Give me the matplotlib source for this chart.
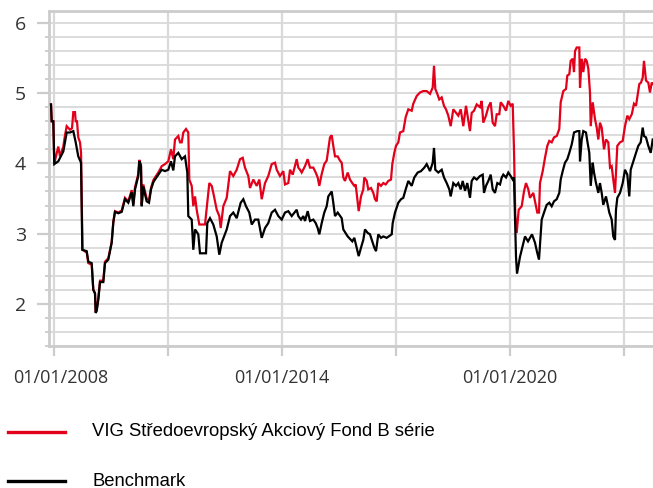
import matplotlib
matplotlib.use("Agg")
import matplotlib.pyplot as plt
import matplotlib.transforms as mtransforms
from matplotlib.lines import Line2D
from matplotlib.ticker import FixedLocator, MultipleLocator

fund_name = "VIG Středoevropský Akciový Fond B série"
bench_name = "Benchmark"

# time in decimal years
fund_t = [2007.921, 2007.939, 2007.982, 2008.008, 2008.053, 2008.113, 2008.158, 2008.245, 2008.289, 2008.334,
          2008.421, 2008.474, 2008.508, 2008.553, 2008.571, 2008.605, 2008.639, 2008.684, 2008.711, 2008.750,
          2008.861, 2008.903, 2008.992, 2009.034, 2009.079, 2009.097, 2009.124, 2009.166, 2009.211, 2009.297,
          2009.342, 2009.429, 2009.518, 2009.561, 2009.605, 2009.692, 2009.782, 2009.868, 2009.955, 2010.045,
          2010.087, 2010.132, 2010.218, 2010.245, 2010.289, 2010.308, 2010.350, 2010.395, 2010.439, 2010.500,
          2010.553, 2010.613, 2010.658, 2010.745, 2010.834, 2010.921, 2011.008, 2011.079, 2011.139, 2011.184,
          2011.271, 2011.316, 2011.361, 2011.403, 2011.474, 2011.534, 2011.561, 2011.624, 2011.666, 2011.711,
          2011.755, 2011.824, 2011.974, 2012.034, 2012.087, 2012.150, 2012.192, 2012.282, 2012.350, 2012.387,
          2012.455, 2012.545, 2012.632, 2012.718, 2012.808, 2012.895, 2012.966, 2013.026, 2013.113, 2013.158,
          2013.245, 2013.334, 2013.403, 2013.466, 2013.553, 2013.639, 2013.729, 2013.816, 2013.861, 2013.947,
          2014.034, 2014.079, 2014.166, 2014.211, 2014.282, 2014.387, 2014.429, 2014.474, 2014.518, 2014.605,
          2014.676, 2014.737, 2014.824, 2014.887, 2014.939, 2014.982, 2015.045, 2015.113, 2015.176, 2015.218,
          2015.263, 2015.308, 2015.350, 2015.395, 2015.466, 2015.526, 2015.571, 2015.613, 2015.658, 2015.729,
          2015.789, 2015.850, 2015.903, 2015.939, 2015.992, 2016.018, 2016.079, 2016.139, 2016.166, 2016.229,
          2016.271, 2016.342, 2016.403, 2016.447, 2016.492, 2016.534, 2016.605, 2016.666, 2016.729, 2016.797,
          2016.868, 2016.903, 2016.955, 2017.000, 2017.061, 2017.105, 2017.192, 2017.255, 2017.324, 2017.413,
          2017.455, 2017.545, 2017.632, 2017.718, 2017.808, 2017.895, 2017.966, 2018.000, 2018.034, 2018.087,
          2018.139, 2018.203, 2018.263, 2018.316, 2018.376, 2018.439, 2018.508, 2018.579, 2018.639, 2018.703,
          2018.771, 2018.842, 2018.903, 2018.947, 2018.992, 2019.053, 2019.124, 2019.211, 2019.255, 2019.297,
          2019.368, 2019.429, 2019.492, 2019.545, 2019.605, 2019.650, 2019.718, 2019.755, 2019.824, 2019.895,
          2019.955, 2020.018, 2020.071, 2020.105, 2020.139, 2020.176, 2020.229, 2020.308, 2020.368, 2020.421,
          2020.482, 2020.526, 2020.613, 2020.684, 2020.718, 2020.763, 2020.789, 2020.861, 2020.921, 2020.982,
          2021.034, 2021.097, 2021.158, 2021.229, 2021.297, 2021.334, 2021.403, 2021.474, 2021.508, 2021.561,
          2021.597, 2021.650, 2021.684, 2021.711, 2021.755, 2021.824, 2021.842, 2021.887, 2021.929, 2021.974,
          2022.018, 2022.061, 2022.105, 2022.124, 2022.176, 2022.237, 2022.282, 2022.324, 2022.368, 2022.413,
          2022.474, 2022.526, 2022.587, 2022.632, 2022.676, 2022.718, 2022.763, 2022.789, 2022.824, 2022.895,
          2022.966, 2023.026, 2023.087, 2023.139, 2023.205, 2023.263, 2023.316, 2023.350, 2023.403, 2023.447,
          2023.492, 2023.526, 2023.579, 2023.639, 2023.684, 2023.729, 2023.763]
fund_v = [4.84, 4.60, 4.60, 4.00, 4.10, 4.24, 4.10, 4.24, 4.40, 4.53,
          4.48, 4.50, 4.73, 4.73, 4.60, 4.60, 4.37, 4.30, 4.16, 2.77,
          2.73, 2.58, 2.56, 2.20, 2.15, 1.88, 1.92, 2.08, 2.33, 2.33,
          2.60, 2.65, 2.88, 3.17, 3.32, 3.30, 3.33, 3.51, 3.46, 3.62,
          3.42, 3.66, 3.85, 4.05, 3.98, 3.42, 3.70, 3.60, 3.50, 3.48,
          3.65, 3.76, 3.80, 3.87, 3.96, 3.99, 4.03, 4.20, 4.06, 4.34,
          4.39, 4.30, 4.30, 4.44, 4.49, 4.44, 3.77, 3.68, 3.39, 3.53,
          3.34, 3.13, 3.13, 3.44, 3.72, 3.68, 3.58, 3.34, 3.25, 3.08,
          3.39, 3.51, 3.89, 3.82, 3.91, 4.06, 4.08, 3.94, 3.82, 3.65,
          3.77, 3.68, 3.77, 3.49, 3.72, 3.82, 3.99, 4.01, 3.91, 3.82,
          3.89, 3.70, 3.72, 3.91, 3.84, 4.06, 3.94, 3.91, 3.87, 3.96,
          4.06, 3.94, 3.94, 3.87, 3.80, 3.68, 3.85, 3.99, 4.04, 4.20,
          4.37, 4.40, 4.25, 4.10, 4.10, 4.04, 4.01, 3.80, 3.75, 3.87,
          3.77, 3.72, 3.68, 3.70, 3.44, 3.32, 3.53, 3.63, 3.80, 3.75,
          3.63, 3.65, 3.58, 3.49, 3.46, 3.72, 3.68, 3.72, 3.70, 3.75,
          3.77, 3.99, 4.15, 4.25, 4.30, 4.44, 4.46, 4.66, 4.77, 4.75,
          4.85, 4.96, 5.01, 5.03, 5.03, 4.99, 5.08, 5.39, 5.06, 4.99,
          4.91, 4.94, 4.82, 4.77, 4.68, 4.53, 4.77, 4.72, 4.68, 4.77,
          4.53, 4.82, 4.61, 4.46, 4.72, 4.75, 4.84, 4.80, 4.89, 4.58,
          4.68, 4.80, 4.87, 4.58, 4.53, 4.70, 4.70, 4.87, 4.82, 4.75,
          4.89, 4.82, 4.85, 4.20, 3.25, 3.01, 3.34, 3.39, 3.60, 3.72,
          3.63, 3.51, 3.58, 3.39, 3.30, 3.30, 3.72, 3.89, 4.08, 4.25,
          4.32, 4.30, 4.37, 4.39, 4.49, 4.87, 5.03, 5.06, 5.25, 5.27,
          5.46, 5.49, 5.30, 5.60, 5.65, 5.65, 5.08, 5.49, 5.30, 5.49,
          5.46, 5.35, 5.01, 4.53, 4.87, 4.63, 4.51, 4.34, 4.58, 4.51,
          4.20, 4.34, 4.30, 3.94, 3.96, 3.77, 3.58, 3.87, 4.25, 4.30,
          4.32, 4.53, 4.68, 4.63, 4.70, 4.85, 4.82, 4.94, 5.13, 5.15,
          5.22, 5.46, 5.18, 5.15, 5.01, 5.15, 5.13]

bench_t = [2007.921, 2007.939, 2007.982, 2008.008, 2008.113, 2008.245, 2008.334, 2008.421, 2008.508, 2008.571,
           2008.639, 2008.711, 2008.745, 2008.861, 2008.903, 2008.992, 2009.034, 2009.079, 2009.097, 2009.124,
           2009.166, 2009.211, 2009.297, 2009.342, 2009.429, 2009.518, 2009.561, 2009.605, 2009.692, 2009.782,
           2009.868, 2009.955, 2010.045, 2010.087, 2010.132, 2010.218, 2010.245, 2010.289, 2010.308, 2010.350,
           2010.395, 2010.439, 2010.500, 2010.553, 2010.613, 2010.658, 2010.745, 2010.834, 2010.921, 2011.008,
           2011.079, 2011.139, 2011.184, 2011.271, 2011.361, 2011.447, 2011.508, 2011.534, 2011.624, 2011.666,
           2011.711, 2011.797, 2011.842, 2012.000, 2012.034, 2012.105, 2012.192, 2012.282, 2012.350, 2012.413,
           2012.545, 2012.632, 2012.718, 2012.808, 2012.913, 2012.982, 2013.053, 2013.139, 2013.203, 2013.289,
           2013.376, 2013.466, 2013.553, 2013.639, 2013.729, 2013.816, 2013.903, 2013.992, 2014.079, 2014.166,
           2014.255, 2014.387, 2014.429, 2014.500, 2014.561, 2014.605, 2014.676, 2014.737, 2014.824, 2014.887,
           2014.939, 2014.982, 2015.045, 2015.113, 2015.176, 2015.218, 2015.308, 2015.350, 2015.395, 2015.466,
           2015.571, 2015.613, 2015.729, 2015.850, 2015.903, 2015.966, 2016.018, 2016.079, 2016.139, 2016.184,
           2016.255, 2016.316, 2016.376, 2016.429, 2016.474, 2016.534, 2016.605, 2016.666, 2016.755, 2016.887,
           2016.913, 2016.974, 2017.061, 2017.132, 2017.192, 2017.255, 2017.324, 2017.413, 2017.482, 2017.571,
           2017.658, 2017.745, 2017.808, 2017.895, 2017.966, 2018.000, 2018.034, 2018.113, 2018.203, 2018.263,
           2018.334, 2018.403, 2018.439, 2018.508, 2018.579, 2018.639, 2018.703, 2018.755, 2018.816, 2018.876,
           2018.947, 2018.992, 2019.053, 2019.124, 2019.211, 2019.282, 2019.316, 2019.368, 2019.429, 2019.492,
           2019.545, 2019.605, 2019.666, 2019.737, 2019.782, 2019.824, 2019.895, 2019.955, 2020.018, 2020.071,
           2020.105, 2020.132, 2020.158, 2020.184, 2020.263, 2020.395, 2020.474, 2020.579, 2020.658, 2020.711,
           2020.763, 2020.834, 2020.895, 2020.966, 2021.034, 2021.097, 2021.158, 2021.229, 2021.297, 2021.334,
           2021.387, 2021.447, 2021.508, 2021.561, 2021.624, 2021.650, 2021.684, 2021.771, 2021.824, 2021.842,
           2021.887, 2021.929, 2022.000, 2022.034, 2022.087, 2022.124, 2022.176, 2022.211, 2022.263, 2022.324,
           2022.368, 2022.413, 2022.455, 2022.526, 2022.561, 2022.613, 2022.676, 2022.718, 2022.763, 2022.789,
           2022.824, 2022.895, 2022.966, 2023.026, 2023.087, 2023.139, 2023.176, 2023.245, 2023.316, 2023.376,
           2023.439, 2023.492, 2023.526, 2023.579, 2023.639, 2023.703, 2023.755]
bench_v = [4.84, 4.60, 4.60, 3.99, 4.03, 4.17, 4.44, 4.44, 4.46, 4.30,
           4.10, 4.01, 2.77, 2.75, 2.60, 2.58, 2.20, 2.15, 1.87, 1.90,
           2.06, 2.31, 2.31, 2.58, 2.63, 2.87, 3.16, 3.31, 3.29, 3.31,
           3.49, 3.44, 3.59, 3.39, 3.63, 3.82, 4.03, 3.96, 3.39, 3.67,
           3.56, 3.46, 3.44, 3.63, 3.73, 3.77, 3.84, 3.91, 3.89, 3.91,
           4.03, 3.90, 4.10, 4.15, 4.06, 4.10, 3.87, 3.25, 3.20, 2.77,
           3.06, 2.99, 2.72, 2.72, 3.15, 3.22, 3.13, 2.96, 2.70, 2.87,
           3.06, 3.25, 3.30, 3.22, 3.44, 3.49, 3.39, 3.30, 3.13, 3.20,
           3.20, 2.94, 3.08, 3.15, 3.30, 3.34, 3.25, 3.20, 3.30, 3.32,
           3.25, 3.34, 3.25, 3.20, 3.25, 3.18, 3.32, 3.18, 3.20, 3.15,
           3.08, 2.99, 3.15, 3.30, 3.39, 3.53, 3.60, 3.44, 3.25, 3.30,
           3.22, 3.06, 2.96, 2.89, 2.94, 2.80, 2.68, 2.80, 2.91, 3.06,
           3.01, 2.99, 2.89, 2.80, 2.75, 2.99, 2.94, 2.96, 2.94, 2.99,
           3.15, 3.30, 3.44, 3.49, 3.51, 3.63, 3.75, 3.68, 3.80, 3.87,
           3.89, 3.94, 3.99, 3.89, 4.01, 4.22, 3.91, 3.87, 3.91, 3.80,
           3.72, 3.63, 3.53, 3.72, 3.68, 3.72, 3.63, 3.75, 3.61, 3.72,
           3.51, 3.75, 3.80, 3.77, 3.82, 3.84, 3.58, 3.68, 3.75, 3.84,
           3.63, 3.58, 3.72, 3.70, 3.80, 3.84, 3.80, 3.87, 3.82, 3.77,
           3.80, 3.24, 2.67, 2.43, 2.67, 2.96, 2.89, 2.99, 2.87, 2.74,
           2.63, 3.20, 3.30, 3.41, 3.44, 3.39, 3.46, 3.49, 3.58, 3.77,
           3.89, 4.01, 4.06, 4.15, 4.27, 4.34, 4.44, 4.46, 4.46, 4.03,
           4.34, 4.46, 4.44, 4.32, 4.15, 3.68, 4.01, 3.87, 3.72, 3.58,
           3.72, 3.58, 3.41, 3.53, 3.44, 3.30, 3.20, 2.96, 2.91, 3.34,
           3.51, 3.58, 3.72, 3.91, 3.84, 3.53, 3.91, 4.03, 4.15, 4.25,
           4.30, 4.51, 4.39, 4.37, 4.25, 4.15, 4.34]

xtick_years = [2008, 2011, 2014, 2017, 2020, 2023]
xtick_labels = ["01/01/2008", "", "01/01/2014", "", "01/01/2020", ""]
ytick_values = [2, 3, 4, 5, 6]
ytick_labels = ["2", "3", "4", "5", "6"]

RED = "#e2001a"
GRID = "#d9d9d9"
SPINE = "#cccccc"
TXT = "#333333"

W, H = 653, 488
fig = plt.figure(figsize=(W / 100, H / 100), dpi=100)
left_px, right_px, top_px, bottom_px = 49, 658, 11, 346
ax = fig.add_axes([left_px / W, 1 - bottom_px / H, (right_px - left_px) / W, (bottom_px - top_px) / H])

ax.plot(fund_t, fund_v, color=RED, lw=1.6, zorder=3, label=fund_name, solid_joinstyle="miter")
ax.plot(bench_t, bench_v, color="black", lw=1.6, zorder=4, label=bench_name, solid_joinstyle="miter")

ax.set_xlim(2008 + (left_px - 54) / 38.0, 2008 + (right_px - 54) / 38.0)
ax.set_ylim(1.4, 6.17)

ax.xaxis.set_major_locator(FixedLocator(xtick_years))
ax.set_xticklabels(xtick_labels)
ax.yaxis.set_major_locator(FixedLocator(ytick_values))
ax.set_yticklabels(ytick_labels)
ax.yaxis.set_minor_locator(MultipleLocator(0.2))

ax.grid(True, which="both", axis="y", color=GRID, lw=1.3, zorder=0)
ax.grid(True, which="major", axis="x", color=GRID, lw=1.6, zorder=0)
ax.set_axisbelow(True)

for s in ["left", "bottom", "top"]:
    ax.spines[s].set_color(SPINE)
    ax.spines[s].set_linewidth(2.0)
ax.spines["right"].set_visible(False)

ax.tick_params(axis="y", which="major", length=8.5, width=1.6, color=SPINE, pad=8,
               labelsize=14, labelcolor=TXT)
ax.tick_params(axis="y", which="minor", length=3, width=1.3, color=SPINE)
ax.tick_params(axis="x", which="major", length=7.5, width=1.6, color=SPINE, pad=9,
               labelsize=13, labelcolor=TXT)
for lab in ax.get_yticklabels() + ax.get_xticklabels():
    lab.set_fontfamily("Open Sans")

# first date label is pushed right to stay inside the chart
first = ax.get_xticklabels()[0]
first.set_transform(first.get_transform() + mtransforms.ScaledTranslation(7 / 100, 0, fig.dpi_scale_trans))

# legend
legend_rows = [(fund_name, RED, 432), (bench_name, "black", 481)]
for name, col, ypx in legend_rows:
    yf = 1 - ypx / H
    fig.add_artist(Line2D([8 / W, 65 / W], [yf, yf], color=col, lw=2.4, transform=fig.transFigure))
    fig.text(92 / W, yf, name, fontsize=13.3, family="Liberation Sans", color="black",
             va="center", ha="left")

fig.savefig("out.png", dpi=100)
